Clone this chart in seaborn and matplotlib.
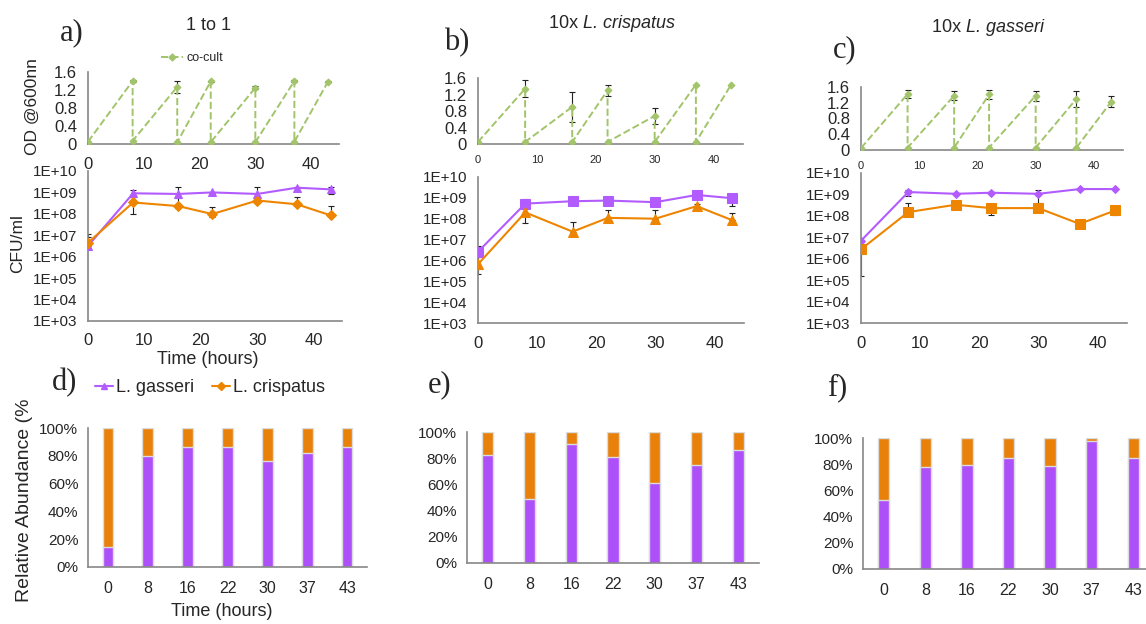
import numpy as np
import pandas as pd
import matplotlib
matplotlib.use("Agg")
import matplotlib.pyplot as plt
import seaborn as sns
from matplotlib.lines import Line2D
from matplotlib.transforms import Bbox, TransformedBbox

# ---------------- data ----------------
# OD600 of the co-culture: at each transfer there is an end-of-growth value and a post-dilution value
od_time = [0, 8, 8, 16, 16, 22, 22, 30, 30, 37, 37, 43]
od_1to1 = [0.05, 1.40, 0.07, 1.27, 0.04, 1.39, 0.04, 1.25, 0.04, 1.40, 0.05, 1.38]
od_1to1_sd = [0, 0.02, 0, 0.13, 0, 0.02, 0, 0.03, 0, 0.02, 0, 0.01]
od_crisp10 = [0.05, 1.34, 0.05, 0.90, 0.05, 1.30, 0.05, 0.68, 0.05, 1.44, 0.05, 1.44]
od_crisp10_sd = [0, 0.21, 0, 0.37, 0, 0.14, 0, 0.20, 0, 0, 0, 0]
od_gass10 = [0.05, 1.42, 0.06, 1.38, 0.06, 1.41, 0.06, 1.38, 0.06, 1.30, 0.06, 1.23]
od_gass10_sd = [0, 0.11, 0, 0.11, 0, 0.12, 0, 0.13, 0, 0.21, 0, 0.15]

# CFU/ml for each species (mean, lower and upper error)
cfu_time = [0, 8, 16, 22, 30, 37, 43]
gass_1to1 = [3.2e6, 9.1e8, 8.5e8, 1.0e9, 8.5e8, 1.66e9, 1.39e9]
gass_1to1_lo = [0, 2.8e8, 2.6e8, 1.0e8, 3.0e8, 0.5e8, 5.4e8]
gass_1to1_hi = [8.3e6, 3.9e8, 1.0e9, 1.0e8, 8.5e8, 1.0e8, 4.6e8]
crisp_1to1 = [4.5e6, 3.4e8, 2.3e8, 9.8e7, 4.2e8, 2.8e8, 8.5e7]
crisp_1to1_lo = [0, 2.4e8, 0.5e8, 0.3e8, 1.1e8, 0.5e8, 0]
crisp_1to1_hi = [3.5e6, 3.0e8, 3.0e8, 1.2e8, 1.1e8, 3.5e8, 1.55e8]

gass_crisp10 = [2.6e6, 5.3e8, 6.9e8, 7.4e8, 6.2e8, 1.38e9, 9.6e8]
gass_crisp10_lo = [1.2e6, 4.0e8, 0.5e8, 3.0e8, 0.5e8, 0.5e8, 5.3e8]
gass_crisp10_hi = [2.3e6, 4.0e8, 0.5e8, 3.5e8, 0.5e8, 0.5e8, 6.0e8]
crisp_crisp10 = [6.6e5, 2.0e8, 2.4e7, 1.1e8, 1.0e8, 4.0e8, 8.5e7]
crisp_crisp10_lo = [4.4e5, 1.4e8, 0, 0, 0, 1.0e8, 0]
crisp_crisp10_hi = [8.4e5, 1.3e8, 4.2e7, 1.5e8, 1.6e8, 1.3e8, 1.05e8]

gass_gass10 = [6.9e6, 1.29e9, 1.07e9, 1.2e9, 1.07e9, 1.78e9, 1.78e9]
gass_gass10_lo = [0, 4.2e8, 0, 0, 6.5e8, 0, 0]
gass_gass10_hi = [0, 3.0e8, 0, 0, 5.3e8, 0, 0]
crisp_gass10 = [2.75e6, 1.5e8, 3.3e8, 2.3e8, 2.3e8, 4.2e7, 1.8e8]
crisp_gass10_lo = [2.6e6, 0, 0.5e8, 1.2e8, 0, 0, 0.7e8]
crisp_gass10_hi = [2.3e6, 2.7e8, 0.5e8, 1.1e8, 0, 0, 0]

# relative abundance (%) of L. gasseri; L. crispatus makes up the rest
bar_time = ["0", "8", "16", "22", "30", "37", "43"]
rel_gass_1to1 = [14.5, 80.2, 86.0, 86.5, 76.6, 82.0, 86.0]
rel_gass_crisp10 = [82.5, 49.0, 90.6, 81.2, 60.7, 75.1, 86.3]
rel_gass_gass10 = [52.8, 78.0, 79.3, 85.0, 78.8, 97.4, 85.0]

cfu_ticks = [1e3, 1e4, 1e5, 1e6, 1e7, 1e8, 1e9, 1e10]
cfu_labels = ["1E+03", "1E+04", "1E+05", "1E+06", "1E+07", "1E+08", "1E+09", "1E+10"]
od_ticks = [0, 0.4, 0.8, 1.2, 1.6]
od_labels = ["0", "0.4", "0.8", "1.2", "1.6"]
time_ticks = [0, 10, 20, 30, 40]
pct_ticks = [0, 20, 40, 60, 80, 100]
pct_labels = ["0%", "20%", "40%", "60%", "80%", "100%"]

# ---------------- style ----------------
sns.set_theme(style="white")
plt.rcParams["font.family"] = ["Liberation Sans", "DejaVu Sans"]
plt.rcParams["axes.linewidth"] = 1.2

GREEN = "#A2C46A"
PURPLE = "#B25CFF"
ORANGE = "#EE8500"
BAR_PURPLE = "#AD50FA"
BAR_ORANGE = "#E8800A"
SPINE = "#878787"

W, H = 1146, 624
fig = plt.figure(figsize=(W / 100, H / 100), dpi=100)


def px_axes(left, top, right, bottom):
    return fig.add_axes([left / W, 1 - bottom / H, (right - left) / W, (bottom - top) / H])


def style_axes(ax):
    sns.despine(ax=ax)
    for side in ("left", "bottom"):
        ax.spines[side].set_color(SPINE)
        ax.spines[side].set_linewidth(1.2)
    ax.tick_params(length=0)
    ax.set_xlabel("")
    ax.set_ylabel("")
    ax.grid(False)
    leg = ax.get_legend()
    if leg is not None:
        leg.remove()


def draw_errors(ax, x, y, lo, hi):
    x = np.asarray(x, float)
    y = np.asarray(y, float)
    lo = np.asarray(lo, float)
    hi = np.asarray(hi, float)
    keep = (lo > 0) | (hi > 0)
    ax.errorbar(x[keep], y[keep], yerr=[lo[keep], hi[keep]], fmt="none",
                ecolor="#222222", elinewidth=0.8, capsize=2.2, capthick=0.8, zorder=1)


def od_panel(ax, values, sd, xtick_size, label=None):
    sns.lineplot(x=od_time, y=values, ax=ax, sort=False, estimator=None,
                 color=GREEN, linestyle="--", linewidth=1.4, marker="D",
                 markersize=3.5, markeredgecolor=GREEN, label=label, zorder=3)
    draw_errors(ax, od_time, values, sd, sd)
    ax.set_xlim(0, 45)
    ax.set_ylim(0, 1.6)
    ax.set_yticks(od_ticks, od_labels)
    ax.set_xticks(time_ticks, [str(t) for t in time_ticks])
    style_axes(ax)
    ax.tick_params(axis="y", labelsize=12, pad=8)
    ax.tick_params(axis="x", labelsize=xtick_size, pad=9 if xtick_size > 10 else 8)


def cfu_panel(ax, gass, gass_lo, gass_hi, crisp, crisp_lo, crisp_hi, m_gass, m_crisp, ms_g, ms_c):
    sns.lineplot(x=cfu_time, y=gass, ax=ax, color=PURPLE, linewidth=1.5, marker=m_gass,
                 markersize=ms_g, markeredgecolor=PURPLE, label="L. gasseri", zorder=3)
    sns.lineplot(x=cfu_time, y=crisp, ax=ax, color=ORANGE, linewidth=1.5, marker=m_crisp,
                 markersize=ms_c, markeredgecolor=ORANGE, label="L. crispatus", zorder=3)
    draw_errors(ax, cfu_time, gass, gass_lo, gass_hi)
    draw_errors(ax, cfu_time, crisp, crisp_lo, crisp_hi)
    ax.set_yscale("log")
    ax.set_ylim(1e3, 1e10)
    ax.set_yticks(cfu_ticks, cfu_labels)
    ax.minorticks_off()
    ax.set_xlim(0, 45)
    ax.set_xticks(time_ticks, [str(t) for t in time_ticks])
    style_axes(ax)
    ax.tick_params(axis="y", labelsize=11, pad=8)
    ax.tick_params(axis="x", labelsize=12, pad=9)


def bar_panel(ax, gass_pct):
    gass_pct = np.asarray(gass_pct, float)
    crisp_pct = 100 - gass_pct
    df = pd.DataFrame({"time": bar_time, "gass": gass_pct, "total": gass_pct + crisp_pct})
    sns.barplot(data=df, x="time", y="total", ax=ax, color=BAR_ORANGE, width=0.27,
                saturation=1, edgecolor="#dcdcdc", linewidth=1.0, order=bar_time)
    sns.barplot(data=df, x="time", y="gass", ax=ax, color=BAR_PURPLE, width=0.27,
                saturation=1, edgecolor="#dcdcdc", linewidth=1.0, order=bar_time)
    ax.set_xlim(-0.5, 6.5)
    ax.set_ylim(0, 100)
    ax.set_yticks(pct_ticks, pct_labels)
    style_axes(ax)
    ax.tick_params(axis="y", labelsize=11, pad=7)
    ax.tick_params(axis="x", labelsize=11.5, pad=10)


# ---------------- panels ----------------
ax_od_a = px_axes(88, 72, 339, 144)
od_panel(ax_od_a, od_1to1, od_1to1_sd, 12, label="co-cult")
ax_od_b = px_axes(478, 78, 743, 144)
od_panel(ax_od_b, od_crisp10, od_crisp10_sd, 8)
ax_od_c = px_axes(861, 87, 1123, 150)
od_panel(ax_od_c, od_gass10, od_gass10_sd, 8)

ax_cfu_a = px_axes(88, 171, 342, 321)
cfu_panel(ax_cfu_a, gass_1to1, gass_1to1_lo, gass_1to1_hi,
          crisp_1to1, crisp_1to1_lo, crisp_1to1_hi, "^", "D", 5.5, 5)
ax_cfu_b = px_axes(478, 177, 744, 323)
cfu_panel(ax_cfu_b, gass_crisp10, gass_crisp10_lo, gass_crisp10_hi,
          crisp_crisp10, crisp_crisp10_lo, crisp_crisp10_hi, "s", "^", 6.5, 7)
ax_cfu_c = px_axes(861, 173, 1127, 323)
cfu_panel(ax_cfu_c, gass_gass10, gass_gass10_lo, gass_gass10_hi,
          crisp_gass10, crisp_gass10_lo, crisp_gass10_hi, "D", "s", 4.5, 7)

ax_bar_d = px_axes(88, 428, 367, 567)
bar_panel(ax_bar_d, rel_gass_1to1)
ax_bar_e = px_axes(467, 432, 759, 563)
bar_panel(ax_bar_e, rel_gass_crisp10)
ax_bar_f = px_axes(863, 438, 1154, 569)
bar_panel(ax_bar_f, rel_gass_gass10)

# ---------------- legends ----------------
ax_od_a.legend(handles=[Line2D([], [], color=GREEN, linestyle="--", linewidth=1.4, marker="D",
                               markersize=3.5, markeredgecolor=GREEN)],
               labels=["co-cult"], loc="center", bbox_to_anchor=(192 / W, 1 - 58 / H),
               bbox_transform=fig.transFigure, frameon=False, fontsize=9,
               handlelength=1.8, handletextpad=0.3)

fig.legend(handles=[Line2D([], [], color=PURPLE, linewidth=1.5, marker="^", markersize=5,
                           markeredgecolor=PURPLE),
                    Line2D([], [], color=ORANGE, linewidth=1.5, marker="D", markersize=4,
                           markeredgecolor=ORANGE)],
           labels=["L. gasseri", "L. crispatus"], ncol=2, loc="center",
           bbox_to_anchor=(210 / W, 1 - 388 / H), frameon=False, fontsize=13,
           handlelength=1.0, handletextpad=0.15, columnspacing=1.0)

# ---------------- text ----------------
def ftext(x, y, s, **kw):
    return fig.text(x / W, 1 - y / H, s, ha="center", va="center", **kw)


def title_with_species(xc, y, prefix, species, size=13):
    """Centre 'prefix species' at xc, with the species name in italics."""
    renderer = fig.canvas.get_renderer()
    t1 = fig.text(0, 1 - y / H, prefix, fontsize=size, va="center", ha="left")
    t2 = fig.text(0, 1 - y / H, species, fontsize=size, va="center", ha="left", style="italic")
    w1 = t1.get_window_extent(renderer).width
    w2 = t2.get_window_extent(renderer).width
    left = xc - (w1 + w2) / 2
    t1.set_x(left / W)
    t2.set_x((left + w1) / W)


ftext(208, 26, "1 to 1", fontsize=13)
title_with_species(612, 23, "10x ", "L. crispatus")
title_with_species(988, 27, "10x ", "L. gasseri")

serif = ["Liberation Serif", "DejaVu Serif"]
for x, y, s in [(72, 33, "a)"), (457, 43, "b)"), (845, 50, "c)"),
                (65, 383, "d)"), (440, 385, "e)"), (837, 388, "f)")]:
    ftext(x, y, s, fontsize=22, family=serif)

ftext(32, 107, "OD @600nn", fontsize=12.5, rotation=90)
ftext(18, 244, "CFU/ml", fontsize=12.5, rotation=90)
ftext(208, 360, "Time (hours)", fontsize=13)
ftext(222, 612, "Time (hours)", fontsize=13)
rel = ftext(25, 497, "Relative Abundance (%)", fontsize=14, rotation=90)
rel.set_clip_box(TransformedBbox(Bbox([[0, 0], [1, 1 - 400 / H]]), fig.transFigure))
rel.set_clip_on(True)

fig.savefig("out.png", dpi=100)
